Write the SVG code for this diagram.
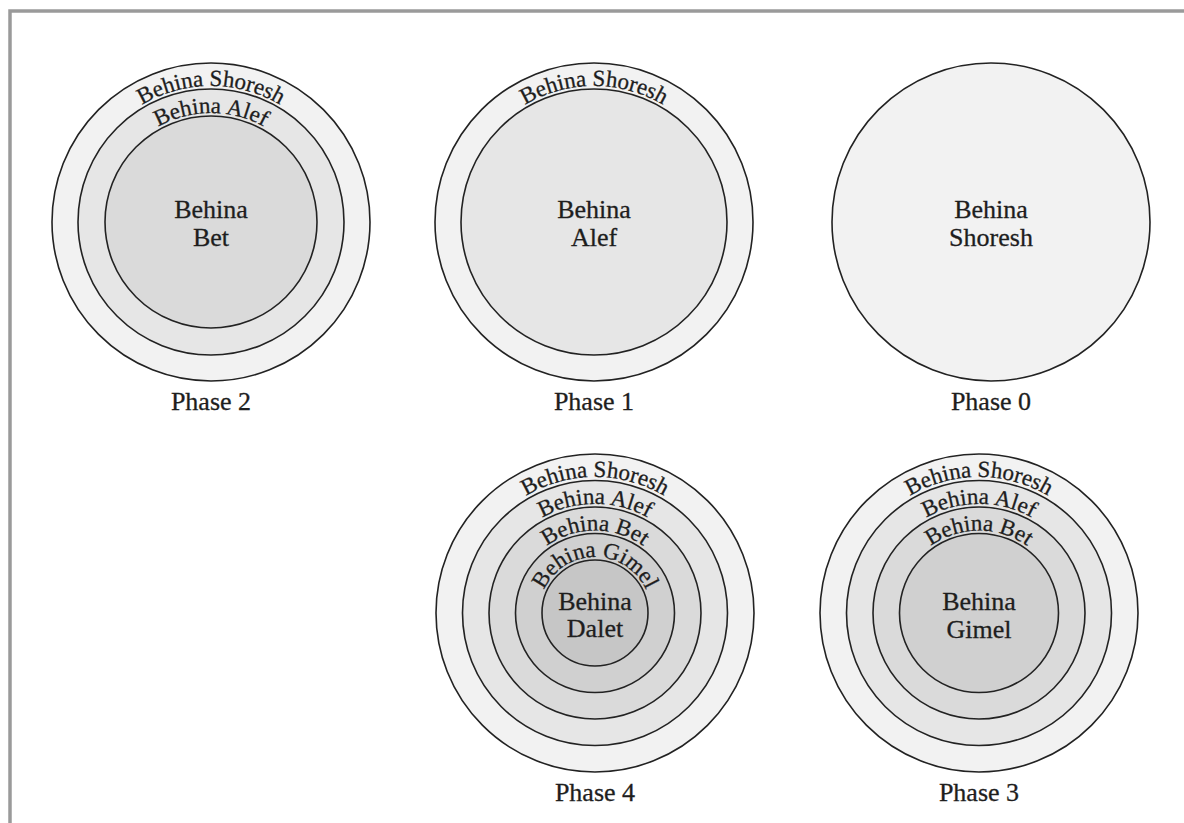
<svg xmlns="http://www.w3.org/2000/svg" width="1184" height="823" viewBox="0 0 1184 823">
  <style>
    .c { stroke: #222; stroke-width: 1.6; }
    .l0 { fill: #f2f2f2; }
    .l1 { fill: #e6e6e6; }
    .l2 { fill: #dadada; }
    .l3 { fill: #d0d0d0; }
    .l4 { fill: #c6c6c6; }
    text { fill: #1e1e1e; stroke: #1e1e1e; stroke-width: 0.3; }
    .big { font-size: 26px; text-anchor: middle; }
    .ring { font-size: 23px; text-anchor: middle; }
  </style>
  <defs>
    <path id="a2s" d="M75,222 A136,136 0 0 1 347,222"/>
    <path id="a2a" d="M102,222 A109,109 0 0 1 320,222"/>
    <path id="a1s" d="M458,222 A136,136 0 0 1 730,222"/>
    <path id="a4s" d="M459,613 A136,136 0 0 1 731,613"/>
    <path id="a4a" d="M486,613 A109,109 0 0 1 704,613"/>
    <path id="a4b" d="M512.5,613 A82.5,82.5 0 0 1 677.5,613"/>
    <path id="a4g" d="M539,613 A56,56 0 0 1 651,613"/>
    <path id="a3s" d="M843,613 A136,136 0 0 1 1115,613"/>
    <path id="a3a" d="M870,613 A109,109 0 0 1 1088,613"/>
    <path id="a3b" d="M896.5,613 A82.5,82.5 0 0 1 1061.5,613"/>
  </defs>

  <rect id="frame" x="10" y="11" width="1200" height="840" fill="none" stroke="#9a9a9a" stroke-width="3.5"/>

  <g id="connectors"/>

  <g font-family="'Liberation Serif', 'Times New Roman', 'DejaVu Serif', serif">
  <g id="phase2">
    <circle class="c l0" cx="211" cy="222" r="159"/>
    <circle class="c l1" cx="211" cy="222" r="133"/>
    <circle class="c l2" cx="211" cy="222" r="106"/>
    <text class="ring"><textPath href="#a2s" startOffset="50%">Behina Shoresh</textPath></text>
    <text class="ring"><textPath href="#a2a" startOffset="50%">Behina Alef</textPath></text>
    <text class="big" x="211" y="218">Behina</text>
    <text class="big" x="211" y="246">Bet</text>
    <text class="big" x="211" y="410">Phase 2</text>
  </g>

  <g id="phase1">
    <circle class="c l0" cx="594" cy="222" r="159"/>
    <circle class="c l1" cx="594" cy="222" r="133"/>
    <text class="ring"><textPath href="#a1s" startOffset="50%">Behina Shoresh</textPath></text>
    <text class="big" x="594" y="218">Behina</text>
    <text class="big" x="594" y="246">Alef</text>
    <text class="big" x="594" y="410">Phase 1</text>
  </g>

  <g id="phase0">
    <circle class="c l0" cx="991" cy="222" r="159"/>
    <text class="big" x="991" y="218">Behina</text>
    <text class="big" x="991" y="246">Shoresh</text>
    <text class="big" x="991" y="410">Phase 0</text>
  </g>

  <g id="phase4">
    <circle class="c l0" cx="595" cy="613" r="159"/>
    <circle class="c l1" cx="595" cy="613" r="132.5"/>
    <circle class="c l2" cx="595" cy="613" r="106"/>
    <circle class="c l3" cx="595" cy="613" r="79.5"/>
    <circle class="c l4" cx="595" cy="613" r="53"/>
    <text class="ring"><textPath href="#a4s" startOffset="50%">Behina Shoresh</textPath></text>
    <text class="ring"><textPath href="#a4a" startOffset="50%">Behina Alef</textPath></text>
    <text class="ring"><textPath href="#a4b" startOffset="50%">Behina Bet</textPath></text>
    <text class="ring"><textPath href="#a4g" startOffset="50%">Behina Gimel</textPath></text>
    <text class="big" x="595" y="610">Behina</text>
    <text class="big" x="595" y="637">Dalet</text>
    <text class="big" x="595" y="801">Phase 4</text>
  </g>

  <g id="phase3">
    <circle class="c l0" cx="979" cy="613" r="159"/>
    <circle class="c l1" cx="979" cy="613" r="132.5"/>
    <circle class="c l2" cx="979" cy="613" r="106"/>
    <circle class="c l3" cx="979" cy="613" r="79.5"/>
    <text class="ring"><textPath href="#a3s" startOffset="50%">Behina Shoresh</textPath></text>
    <text class="ring"><textPath href="#a3a" startOffset="50%">Behina Alef</textPath></text>
    <text class="ring"><textPath href="#a3b" startOffset="50%">Behina Bet</textPath></text>
    <text class="big" x="979" y="610">Behina</text>
    <text class="big" x="979" y="638">Gimel</text>
    <text class="big" x="979" y="801">Phase 3</text>
  </g>
  </g>
</svg>
